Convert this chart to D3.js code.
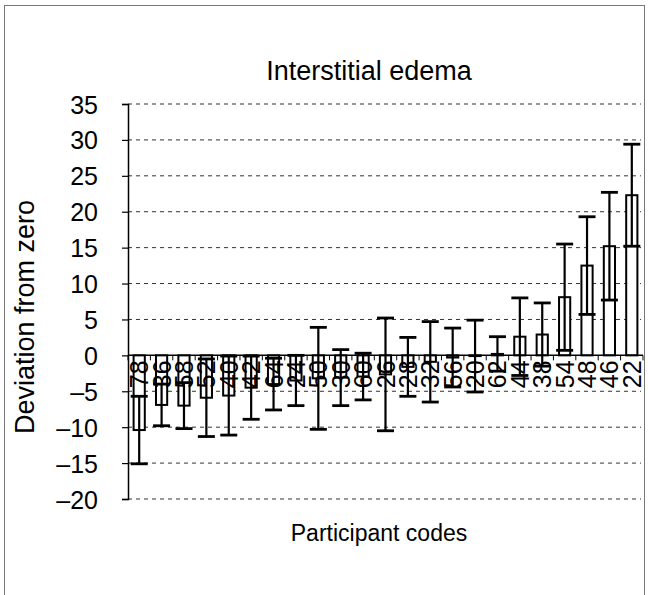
<!DOCTYPE html>
<html><head><meta charset="utf-8">
<script src="https://cdn.jsdelivr.net/npm/d3@7"></script>
<style>html,body{margin:0;padding:0;background:#fff;}svg{display:block;}</style>
</head><body>
<script>
const codes = ["78","36","58","52","40","42","64","24","50","30","60","26","28","32","56","20","62","44","38","54","48","46","22"];
const means = [-10.4,-6.9,-7.0,-5.9,-5.6,-4.5,-4.0,-3.5,-3.2,-3.1,-2.95,-2.65,-1.6,-0.9,-0.3,-0.1,0.2,2.6,2.9,8.1,12.5,15.2,22.3];
const errors = [4.7,2.9,3.2,5.4,5.5,4.4,3.6,3.5,7.1,3.9,3.25,7.85,4.1,5.6,4.1,5.0,2.4,5.4,4.4,7.4,6.8,7.5,7.1];
const yTicks = [35,30,25,20,15,10,5,0,-5,-10,-15,-20];
const title = "Interstitial edema";
const yTitle = "Deviation from zero";
const xTitle = "Participant codes";

const W = 648, H = 595;
const svg = d3.select("body").append("svg").attr("width", W).attr("height", H);
svg.append("rect").attr("width", W).attr("height", H).attr("fill", "#fff");
svg.append("rect").attr("x", 4.5).attr("y", 5.5).attr("width", 640).attr("height", 600)
  .attr("fill", "none").attr("stroke", "#777").attr("stroke-width", 1);

const x = d3.scaleBand().domain(codes).range([128, 643]).paddingInner(0.5).paddingOuter(0.25);
const xb = d3.scaleBand().domain(codes).range([128, 643]);
const y = d3.scaleLinear().domain([-20, 35]).range([499, 104]);
const font = "Liberation Sans, Arial, Helvetica, sans-serif";

// gridlines
svg.append("g").selectAll("line").data(yTicks.filter(t => t !== 0)).join("line")
  .attr("x1", 128).attr("x2", 641).attr("y1", d => y(d)).attr("y2", d => y(d))
  .attr("stroke", "#333").attr("stroke-width", 1).attr("stroke-dasharray", "4,4");

// y axis
const yAxis = svg.append("g").attr("transform", "translate(128,0)")
  .call(d3.axisLeft(y).tickValues(yTicks).tickSize(6)
    .tickFormat(d => d < 0 ? "\u2013" + Math.abs(d) : String(d)));
yAxis.select(".domain").attr("stroke", "#000").attr("stroke-width", 1.5);
yAxis.selectAll(".tick line").attr("stroke", "#000").attr("stroke-width", 1.2);
yAxis.selectAll(".tick text")
  .attr("font-family", font).attr("font-size", 25).attr("fill", "#000")
  .attr("x", -30).attr("dy", "0.36em").attr("text-anchor", "end");

// bars
const idx = d3.range(codes.length);
svg.append("g").selectAll("rect").data(idx).join("rect")
  .attr("x", i => x(codes[i])).attr("width", x.bandwidth())
  .attr("y", i => y(Math.max(0, means[i])))
  .attr("height", i => Math.abs(y(means[i]) - y(0)))
  .attr("fill", "#fff").attr("stroke", "#000").attr("stroke-width", 2);

// x axis at zero
const xAxis = svg.append("g").attr("transform", `translate(0,${y(0)})`);
xAxis.append("line").attr("x1", 128).attr("x2", 643).attr("stroke", "#000").attr("stroke-width", 1.5);
xAxis.selectAll("line.tk").data(codes.concat(["end"])).join("line").attr("class", "tk")
  .attr("x1", (d, i) => i < codes.length ? xb(d) : 643).attr("x2", (d, i) => i < codes.length ? xb(d) : 643)
  .attr("y1", 0).attr("y2", 5).attr("stroke", "#000").attr("stroke-width", 1);

// error bars
const eb = svg.append("g").attr("stroke", "#000").attr("stroke-width", 2.2);
idx.forEach(i => {
  const cx = x(codes[i]) + x.bandwidth() / 2;
  const hi = y(means[i] + errors[i]), lo = y(means[i] - errors[i]);
  eb.append("line").attr("x1", cx).attr("x2", cx).attr("y1", hi).attr("y2", lo);
  eb.append("line").attr("x1", cx - 8.5).attr("x2", cx + 8.5).attr("y1", hi).attr("y2", hi).attr("stroke-width", 2.8);
  eb.append("line").attr("x1", cx - 8.5).attr("x2", cx + 8.5).attr("y1", lo).attr("y2", lo).attr("stroke-width", 2.8);
});

// category labels rotated
svg.append("g").selectAll("text").data(codes).join("text")
  .attr("transform", d => `translate(${x(d) + x.bandwidth() / 2 + 9},${y(0) + 5}) rotate(-90)`)
  .attr("text-anchor", "end").attr("font-family", font).attr("font-size", 25).attr("fill", "#000")
  .text(d => d);

// titles
svg.append("text").attr("x", 369).attr("y", 80).attr("text-anchor", "middle")
  .attr("font-family", font).attr("font-size", 27).attr("fill", "#000").text(title);
svg.append("text").attr("transform", "translate(34,317) rotate(-90)").attr("text-anchor", "middle")
  .attr("font-family", font).attr("font-size", 27).attr("fill", "#000").text(yTitle);
svg.append("text").attr("x", 379).attr("y", 541).attr("text-anchor", "middle")
  .attr("font-family", font).attr("font-size", 23).attr("fill", "#000").text(xTitle);
</script>
</body></html>
